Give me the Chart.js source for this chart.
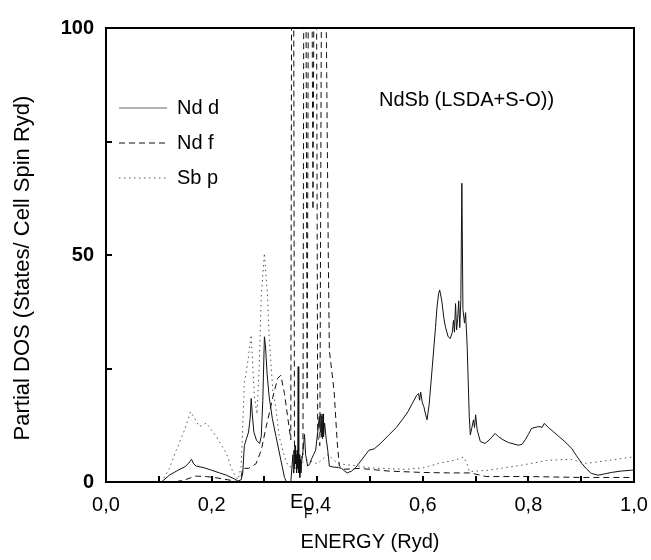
<!DOCTYPE html>
<html>
<head>
<meta charset="utf-8">
<title>NdSb partial DOS</title>
<script src="https://cdn.jsdelivr.net/npm/chart.js@4.4.0/dist/chart.umd.min.js"></script>
<style>
  html, body { margin: 0; padding: 0; background: #fff; }
  canvas { display: block; }
</style>
</head>
<body>
<canvas id="dosChart" width="651" height="560"></canvas>
<script>
// Values (energy in Ryd, DOS in states / cell spin Ryd)
const ndD_E = [0, 0.105, 0.12, 0.135, 0.15, 0.157, 0.162, 0.166, 0.171, 0.184, 0.2, 0.215, 0.228, 0.243, 0.25,
  0.256, 0.259, 0.262, 0.266, 0.27, 0.273, 0.275, 0.277, 0.28, 0.285, 0.291, 0.294, 0.297, 0.3, 0.302, 0.305,
  0.309, 0.315, 0.322, 0.33, 0.338, 0.342, 0.35, 0.352, 0.354, 0.355, 0.356, 0.357, 0.358, 0.359, 0.36, 0.361,
  0.362, 0.363, 0.364, 0.365, 0.366, 0.367, 0.368, 0.369, 0.37, 0.372, 0.374, 0.376, 0.378, 0.382, 0.386, 0.389,
  0.393, 0.397, 0.401, 0.404, 0.406, 0.407, 0.408, 0.409, 0.41, 0.411, 0.412, 0.414, 0.417, 0.42, 0.423, 0.43,
  0.44, 0.446, 0.452, 0.457, 0.465, 0.473, 0.485, 0.498, 0.508, 0.52, 0.536, 0.55, 0.561, 0.572, 0.58, 0.588,
  0.592, 0.594, 0.596, 0.599, 0.602, 0.605, 0.608, 0.612, 0.618, 0.624, 0.627, 0.63, 0.632, 0.636, 0.64, 0.643,
  0.648, 0.652, 0.656, 0.658, 0.66, 0.662, 0.664, 0.666, 0.668, 0.67, 0.672, 0.674, 0.676, 0.679, 0.681, 0.684,
  0.688, 0.69, 0.693, 0.696, 0.698, 0.7, 0.703, 0.709, 0.718, 0.728, 0.737, 0.743, 0.752, 0.762, 0.781, 0.788,
  0.794, 0.8, 0.806, 0.815, 0.822, 0.826, 0.83, 0.838, 0.847, 0.858, 0.869, 0.882, 0.891, 0.901, 0.91, 0.919,
  0.932, 0.945, 0.957, 0.975, 0.995, 1.0];
const ndD_dos = [0, 0, 1.5, 2.5, 3.4, 4.2, 5.0, 4.0, 3.5, 3.2, 2.6, 2.0, 1.5, 0.7, 0.2,
  0.5, 2, 8, 9.5, 11, 14, 18.4, 15, 11, 9.2, 8.5, 10, 18, 32, 30, 24,
  18.8, 14, 10, 5.5, 1, 0, 0, 3, 6, 2, 7, 3, 8, 4, 6, 2,
  7, 3, 25.4, 2, 6, 1, 5, 2, 4, 5.6, 8, 10.5, 6, 3.5, 4, 5,
  6, 7, 11, 14.4, 11, 15, 10, 14.5, 9.5, 15, 10, 13, 9.5, 7, 3.5, 3.3,
  3.2, 3.0, 2.4, 2.0, 2.4, 3.2, 5, 7.0, 7.3, 8.5, 10.4, 12, 13.7, 15.5, 17.3, 19,
  19.5, 18, 19.8, 17.5, 16.6, 15, 13.7, 17, 25.4, 34, 38.6, 41.5, 42.3, 39.9, 36, 34.1,
  32, 31.6, 33, 35.6, 33, 39.3, 33.5, 36, 39.9, 34, 40, 65.8, 38, 35, 37.3, 30,
  14.4, 10.4, 12, 13.7, 12, 14.8, 11.5, 8.9, 8.5, 9.5, 10.7, 10.0, 9.3, 8.7, 8.1, 8.3,
  9.3, 10.5, 11.8, 12.1, 12.2, 12.0, 12.9, 12.0, 11.1, 10.0, 8.9, 7.4, 5.8, 4.1, 2.9, 1.9,
  1.5, 1.8, 2.1, 2.4, 2.6, 2.6];

// Nd f: the tall peaks near E_F go far off the top (clipped at 100)
const ndF_E = [0, 0.13, 0.15, 0.17, 0.19, 0.21, 0.24, 0.25, 0.255, 0.259, 0.27, 0.284, 0.294, 0.303, 0.31,
  0.316, 0.325, 0.331, 0.338, 0.344, 0.35, 0.352, 0.355, 0.357, 0.362, 0.368, 0.373, 0.375, 0.378, 0.381,
  0.384, 0.389, 0.392, 0.395, 0.398, 0.401, 0.405, 0.409, 0.414, 0.418, 0.421, 0.423, 0.432, 0.438, 0.442,
  0.45, 0.48, 0.536, 0.6, 0.65, 0.69, 0.72, 0.8, 0.9, 1.0];
const ndF_dos = [0, 0, 0.5, 1.3, 1.2, 0.9, 0.3, 0, 0.5, 3, 3, 4, 7, 12, 15.5,
  18.7, 22.8, 23.5, 19.5, 14.4, 9.3, 140, 140, 6, 4, 5, 6, 140, 140, 18,
  140, 140, 60, 140, 140, 10, 8, 140, 140, 90, 50, 29, 20, 8.6, 3.5,
  2.8, 3, 2.4, 2.1, 2.0, 2.0, 1.2, 1.2, 1.0, 1.0];

const sbP_E = [0, 0.105, 0.12, 0.133, 0.149, 0.16, 0.168, 0.177, 0.19, 0.209, 0.228, 0.24, 0.25, 0.256, 0.262,
  0.268, 0.275, 0.281, 0.286, 0.29, 0.294, 0.3, 0.306, 0.309, 0.316, 0.322, 0.328, 0.338, 0.345, 0.36, 0.38,
  0.4, 0.42, 0.44, 0.479, 0.5, 0.566, 0.6, 0.63, 0.66, 0.677, 0.684, 0.688, 0.725, 0.787, 0.838, 0.88, 0.91,
  0.955, 0.99, 1.0];
const sbP_dos = [0, 0, 3, 7, 11.5, 15.5, 14, 12.2, 13, 10, 6.3, 2.3, 0.5, 3.4, 21.8,
  26, 32.4, 18.8, 15, 25, 40.8, 50.4, 40.8, 32, 20, 16, 10, 5.6, 3.5, 3, 5,
  4, 6, 4, 3.5, 3.1, 2.8, 3.1, 4.1, 4.8, 5.5, 4, 2.3, 2.6, 3.7, 4.8, 5, 4.1,
  4.8, 5.4, 5.5];

const seriesNames = ["Nd d", "Nd f", "Sb p"];
const xTickLabels = ["0,0", "0,2", "0,4", "0,6", "0,8", "1,0"];
const yTickLabels = ["0", "50", "100"];
const fermiLabel = ["E", "F"];
const chartTitle = "NdSb (LSDA+S-O))";

const FONT = "'Liberation Sans', Arial, sans-serif";

function points(xs, ys) {
  return xs.map((x, i) => ({ x: x, y: ys[i] }));
}

const styles = [
  { borderColor: "#111", borderDash: [] },
  { borderColor: "#111", borderDash: [6, 4] },
  { borderColor: "#555", borderDash: [1.5, 3.5] }
];

// frame, inward ticks, legend and the in-plot texts
const decorations = {
  id: "decorations",
  afterDraw(chart) {
    const ctx = chart.ctx;
    const a = chart.chartArea;
    const xs = chart.scales.x, ys = chart.scales.y;
    ctx.save();

    ctx.strokeStyle = "#000";
    ctx.lineWidth = 2;
    ctx.setLineDash([]);
    ctx.strokeRect(a.left, a.top, a.right - a.left, a.bottom - a.top);

    ctx.lineWidth = 2;
    xs.ticks.forEach(t => {
      const px = Math.round(xs.getPixelForValue(t.value));
      ctx.beginPath();
      ctx.moveTo(px, a.bottom);
      ctx.lineTo(px, a.bottom - 6);
      ctx.stroke();
    });
    ys.ticks.forEach(t => {
      const py = Math.round(ys.getPixelForValue(t.value));
      ctx.beginPath();
      ctx.moveTo(a.left, py);
      ctx.lineTo(a.left + 6, py);
      ctx.stroke();
    });

    // legend
    ctx.font = "20px " + FONT;
    ctx.textBaseline = "middle";
    ctx.textAlign = "left";
    seriesNames.forEach((name, i) => {
      const y = 108 + i * 35;
      ctx.strokeStyle = i === 0 ? "#666" : styles[i].borderColor;
      ctx.lineWidth = 1;
      ctx.setLineDash(styles[i].borderDash);
      ctx.beginPath();
      ctx.moveTo(119, y);
      ctx.lineTo(167, y);
      ctx.stroke();
      ctx.fillStyle = "#000";
      ctx.fillText(name, 177, y);
    });

    ctx.fillText(chartTitle, 379, 100);

    // Fermi level mark under the axis
    ctx.font = "20px " + FONT;
    ctx.textBaseline = "top";
    ctx.fillText(fermiLabel[0], 290, 492);
    ctx.font = "14px " + FONT;
    ctx.fillText(fermiLabel[1], 304, 507);

    // axis titles
    ctx.font = "20px " + FONT;
    ctx.textAlign = "center";
    ctx.textBaseline = "middle";
    ctx.fillText("ENERGY (Ryd)", (a.left + a.right) / 2, 542);
    ctx.save();
    ctx.translate(23, 268);
    ctx.rotate(-Math.PI / 2);
    ctx.font = "22px " + FONT;
    ctx.fillText("Partial DOS (States/ Cell Spin Ryd)", 0, 0);
    ctx.restore();

    ctx.restore();
  }
};

new Chart(document.getElementById("dosChart"), {
  type: "line",
  data: {
    datasets: [
      { label: seriesNames[0], data: points(ndD_E, ndD_dos) },
      { label: seriesNames[1], data: points(ndF_E, ndF_dos) },
      { label: seriesNames[2], data: points(sbP_E, sbP_dos) }
    ].map((d, i) => Object.assign(d, {
      borderColor: styles[i].borderColor,
      borderDash: styles[i].borderDash,
      borderWidth: 1,
      pointRadius: 0,
      tension: 0,
      fill: false
    }))
  },
  options: {
    responsive: false,
    animation: false,
    devicePixelRatio: 1,
    layout: { padding: { top: 28, right: 17, left: 0, bottom: 0 } },
    plugins: { legend: { display: false }, tooltip: { enabled: false } },
    scales: {
      x: {
        type: "linear",
        min: 0, max: 1,
        grid: { display: false, drawTicks: false },
        border: { display: false },
        afterFit: s => { s.height = 78; s.paddingLeft = 0; s.paddingRight = 0; },
        ticks: {
          stepSize: 0.1,
          padding: 11,
          maxRotation: 0,
          autoSkip: false,
          color: "#000",
          font: { family: FONT, size: 20 },
          callback: (v, i) => (i % 2 === 0 ? xTickLabels[i / 2] : "")
        }
      },
      y: {
        min: 0, max: 100,
        grid: { display: false, drawTicks: false },
        border: { display: false },
        afterFit: s => { s.width = 106; s.paddingTop = 0; s.paddingBottom = 0; },
        ticks: {
          stepSize: 25,
          padding: 12,
          color: "#000",
          font: { family: FONT, size: 20, weight: "bold" },
          callback: (v, i) => (i % 2 === 0 ? yTickLabels[i / 2] : "")
        }
      }
    }
  },
  plugins: [decorations]
});
</script>
</body>
</html>
